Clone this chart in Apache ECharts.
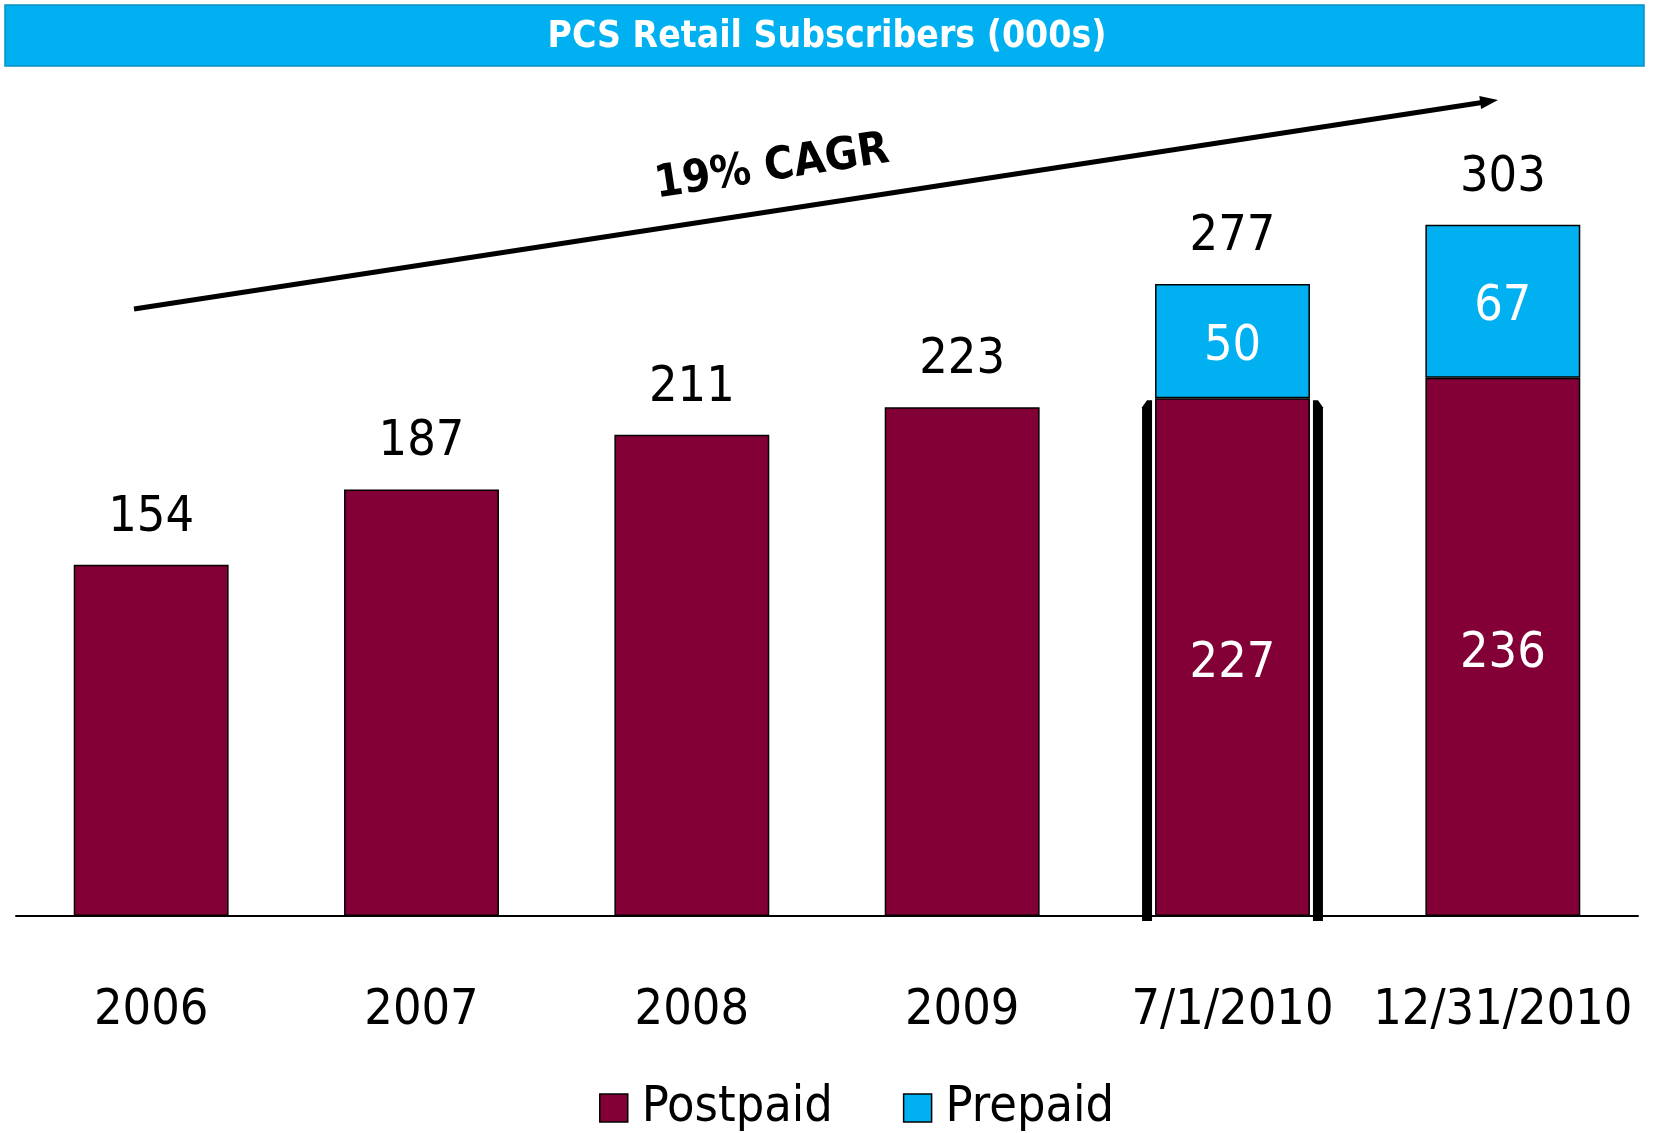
<!DOCTYPE html>
<html>
<head>
<meta charset="utf-8">
<script src="https://cdn.jsdelivr.net/npm/echarts@6/dist/echarts.min.js"></script>
<style>html,body{margin:0;padding:0;background:#fff}#c{width:1654px;height:1133px}</style>
</head>
<body>
<div id="c"></div>
<script>
const categories = ['2006', '2007', '2008', '2009', '7/1/2010', '12/31/2010'];
const postpaid = [154, 187, 211, 223, 227, 236];
const prepaid = [null, null, null, null, 50, 67];
const totals = [154, 187, 211, 223, 277, 303];
const highlighted = [[4, 227]];
const titleText = 'PCS Retail Subscribers (000s)';
const cagrText = '19% CAGR';

const MAROON = '#820035';
const CYAN = '#00B0F0';
const FONT = '"DejaVu Sans Condensed", "DejaVu Sans", sans-serif';

const chart = echarts.init(document.getElementById('c'));
const insideFrom = 4;

chart.setOption({
  backgroundColor: '#ffffff',
  animation: false,
  grid: { left: 16, right: 16, top: 186, bottom: 217 },
  xAxis: {
    type: 'category',
    data: categories,
    axisLine: { lineStyle: { color: '#000', width: 2 } },
    axisTick: { show: false },
    axisLabel: { color: '#000', fontSize: 50, fontFamily: FONT, margin: 70, interval: 0 }
  },
  yAxis: { type: 'value', min: 0, max: 320, show: false, splitLine: { show: false } },
  legend: {
    left: 594, top: 1078,
    itemWidth: 28, itemHeight: 28, itemGap: 70,
    icon: 'rect',
    textStyle: { color: '#000', fontSize: 50, fontFamily: FONT, padding: [0, 0, 0, 9] },
    data: [
      { name: 'Postpaid', itemStyle: { color: MAROON, borderColor: '#000', borderWidth: 1.5 } },
      { name: 'Prepaid', itemStyle: { color: CYAN, borderColor: '#000', borderWidth: 1.5 } }
    ]
  },
  graphic: [
    { type: 'rect', shape: { x: 5, y: 5, width: 1639, height: 61 },
      style: { fill: CYAN, stroke: '#0a8fc4', lineWidth: 1.5 } },
    { type: 'text', x: 827, y: 37,
      style: { text: titleText, fill: '#fff', font: 'bold 37px "DejaVu Sans Condensed", "DejaVu Sans", sans-serif',
        align: 'center', verticalAlign: 'middle' } },
    { type: 'line', shape: { x1: 134, y1: 309, x2: 1482, y2: 102.5 },
      style: { stroke: '#000', lineWidth: 5 } },
    { type: 'polygon', shape: { points: [[1498, 100], [1481.1, 109], [1479.3, 96]] },
      style: { fill: '#000' } },
    { type: 'text', x: 772, y: 168, rotation: 0.152, originX: 0, originY: 0,
      style: { text: cagrText, fill: '#000', font: 'bold 45px "DejaVu Sans Condensed", "DejaVu Sans", sans-serif',
        align: 'center', verticalAlign: 'middle' } }
  ],
  series: [
    {
      name: 'Postpaid', type: 'bar', stack: 'a', barWidth: '57.3%',
      itemStyle: { color: MAROON, borderColor: '#000', borderWidth: 1.5 },
      data: postpaid.map((v, i) => ({
        value: v,
        label: i >= insideFrom
          ? { show: true, position: 'inside', offset: [0, 7], color: '#fff', fontSize: 50, fontFamily: FONT }
          : { show: false }
      }))
    },
    {
      name: 'Prepaid', type: 'bar', stack: 'a', barWidth: '57.3%',
      itemStyle: { color: CYAN, borderColor: '#000', borderWidth: 1.5 },
      label: { show: true, position: 'inside', offset: [0, 6], color: '#fff', fontSize: 50, fontFamily: FONT },
      data: prepaid
    },
    {
      name: 'Total', type: 'scatter', symbolSize: 0, silent: true,
      itemStyle: { opacity: 1 },
      label: { show: true, position: 'top', distance: 22, color: '#000', fontSize: 50, fontFamily: FONT,
        formatter: p => p.value },
      data: totals, z: 5
    },
    {
      name: 'Highlight', type: 'custom', silent: true, z: 4,
      encode: { x: 0, y: 1 },
      data: highlighted,
      renderItem: function (params, api) {
        const top = api.coord([api.value(0), api.value(1)]);
        const base = api.coord([api.value(0), 0]);
        const bw = api.size([1, 0])[0] * 0.573;
        const cx = top[0];
        const y0 = top[1] + 2, y1 = base[1] + 5;
        const w = 10, gap = 3;
        const lx = cx - bw / 2 - gap - w;
        const rx = cx + bw / 2 + gap;
        return {
          type: 'group',
          children: [
            { type: 'polygon', shape: { points: [[lx, y0 + 7], [lx + 5, y0], [lx + w, y0], [lx + w, y1], [lx, y1]] }, style: { fill: '#000' } },
            { type: 'polygon', shape: { points: [[rx, y0], [rx + w - 5, y0], [rx + w, y0 + 7], [rx + w, y1], [rx, y1]] }, style: { fill: '#000' } }
          ]
        };
      }
    }
  ]
});
</script>
</body>
</html>
